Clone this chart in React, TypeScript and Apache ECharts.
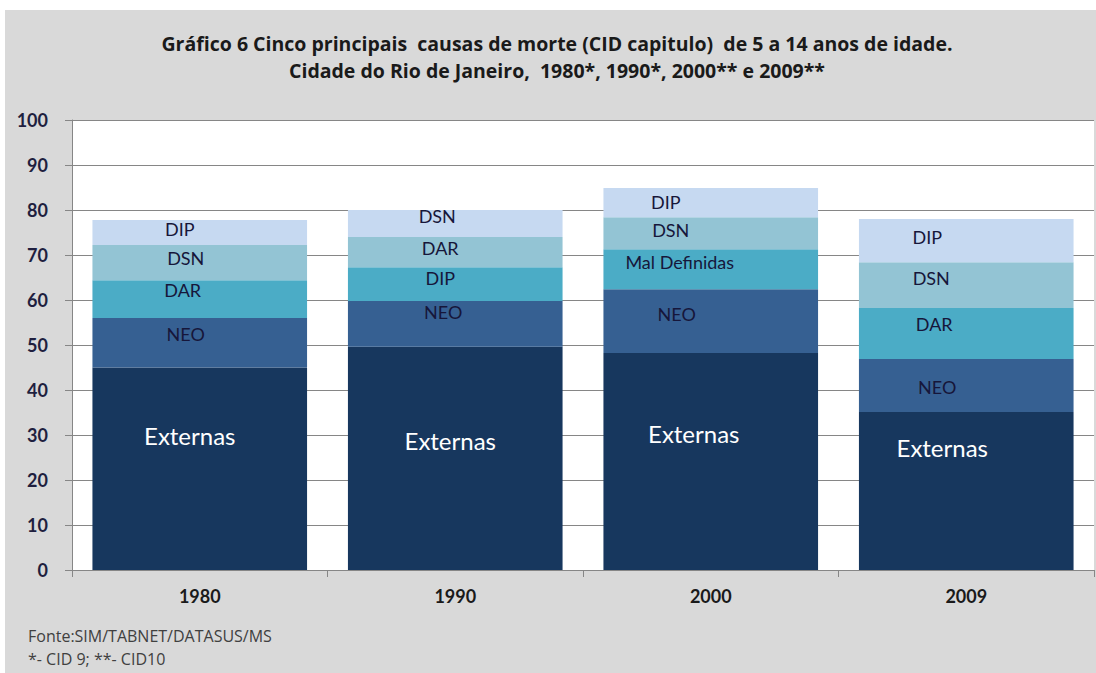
import React, { useEffect, useRef } from "react";
import * as echarts from "echarts";

const years = ["1980", "1990", "2000", "2009"];
const yTicks = [0, 10, 20, 30, 40, 50, 60, 70, 80, 90, 100];

// Stacking layers (bottom to top); cause name per year for each layer
const layer1Names = ["Externas", "Externas", "Externas", "Externas"];
const layer1Values = [45.0, 49.6, 48.2, 35.1];
const layer2Names = ["NEO", "NEO", "NEO", "NEO"];
const layer2Values = [11.0, 10.2, 14.2, 11.8];
const layer3Names = ["DAR", "DIP", "Mal Definidas", "DAR"];
const layer3Values = [8.4, 7.5, 8.9, 11.3];
const layer4Names = ["DSN", "DAR", "DSN", "DSN"];
const layer4Values = [7.8, 6.7, 7.1, 10.2];
const layer5Names = ["DIP", "DSN", "DIP", "DIP"];
const layer5Values = [5.6, 6.0, 6.5, 9.6];

const titleLine1 = "Gráfico 6 Cinco principais  causas de morte (CID capitulo)  de 5 a 14 anos de idade.";
const titleLine2 = "Cidade do Rio de Janeiro,  1980*, 1990*, 2000** e 2009**";
const footLine1 = "Fonte:SIM/TABNET/DATASUS/MS";
const footLine2 = "*- CID 9; **- CID10";

// label placement (manual, as in the original), [dx, dy] from segment centre
const layer1Offsets = [[-10, -33], [-5, -18], [-17, -28], [-24, -44]];
const layer2Offsets = [[-14, -9], [-12, -12], [-34, -7], [-29, 1]];
const layer3Offsets = [[-17, -9], [-15, -6], [-31, -7], [-32, -10]];
const layer4Offsets = [[-14, -5], [-15, -4], [-40, -3], [-35, -7]];
const layer5Offsets = [[-20, -4], [-18, -8], [-45, -1], [-39, -4]];

const layerColors = ["#17375e", "#366092", "#4bacc6", "#93c4d4", "#c6d9f1"];

export default function App() {
  const ref = useRef<HTMLDivElement>(null);
  useEffect(() => {
    if (!ref.current) return;
    const chart = echarts.init(ref.current, null, { renderer: "svg" });
    const font = "Lato";
    const tfont = "'Open Sans'";
    const layers = [
      { names: layer1Names, values: layer1Values, offs: layer1Offsets, big: true },
      { names: layer2Names, values: layer2Values, offs: layer2Offsets, big: false },
      { names: layer3Names, values: layer3Values, offs: layer3Offsets, big: false },
      { names: layer4Names, values: layer4Values, offs: layer4Offsets, big: false },
      { names: layer5Names, values: layer5Values, offs: layer5Offsets, big: false },
    ];
    const series = layers.map((l, i) => ({
      type: "bar",
      stack: "total",
      barCategoryGap: "16%",
      itemStyle: { color: layerColors[i] },
      data: l.values.map((v, j) => ({
        value: v,
        label: {
          show: true,
          position: "inside",
          offset: l.offs[j],
          formatter: () => l.names[j],
          color: l.big ? "#ffffff" : "#16163a",
          fontSize: l.big ? 24 : 18,
          fontFamily: font,
        },
      })),
    }));
    chart.setOption({
      animation: false,
      backgroundColor: "#ffffff",
      graphic: [
        { type: "rect", shape: { x: 5, y: 10, width: 1091, height: 663 }, style: { fill: "#d9d9d9" }, z: -10 },
        {
          type: "text", x: 557, y: 43,
          style: { text: titleLine1, font: `bold 19.5px ${tfont}`, fill: "#1a1a1a", textAlign: "center", textVerticalAlign: "middle" },
        },
        {
          type: "text", x: 557, y: 70,
          style: { text: titleLine2, font: `bold 19.5px ${tfont}`, fill: "#1a1a1a", textAlign: "center", textVerticalAlign: "middle" },
        },
        {
          type: "text", x: 28, y: 636,
          style: { text: footLine1, font: `16px ${tfont}`, fill: "#404040", textVerticalAlign: "middle" },
        },
        {
          type: "text", x: 28, y: 659,
          style: { text: footLine2, font: `16px ${tfont}`, fill: "#404040", textVerticalAlign: "middle" },
        },
      ],
      grid: {
        left: 72, right: 2, top: 120, bottom: 103,
        show: true, backgroundColor: "#ffffff", borderWidth: 0,
      },
      xAxis: {
        type: "category",
        data: years,
        axisLine: { lineStyle: { color: "#868686", width: 1 } },
        axisTick: { show: true, length: 7, lineStyle: { color: "#868686" } },
        axisLabel: { margin: 17, fontFamily: font, fontWeight: "bold", fontSize: 18, color: "#1a1a1a" },
      },
      yAxis: {
        type: "value",
        min: yTicks[0],
        max: yTicks[yTicks.length - 1],
        interval: 10,
        axisLine: { show: true, lineStyle: { color: "#868686", width: 1 } },
        axisTick: { show: true, length: 7, lineStyle: { color: "#868686" } },
        axisLabel: { margin: 24, fontFamily: font, fontWeight: "bold", fontSize: 18, color: "#1f1f3f" },
        splitLine: { show: true, lineStyle: { color: "#868686", width: 1 } },
      },
      series,
    });
    return () => chart.dispose();
  }, []);
  return (
    <div
      ref={ref}
      style={{ position: "fixed", left: 0, top: 0, width: 1096, height: 673 }}
    />
  );
}
